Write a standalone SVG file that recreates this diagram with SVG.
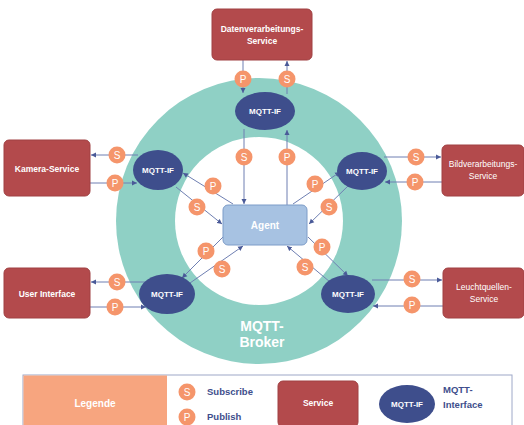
<svg xmlns="http://www.w3.org/2000/svg" width="524" height="425" viewBox="0 0 524 425">
<style>
text{font-family:"Liberation Sans",Arial,sans-serif;fill:#fff;text-anchor:middle}
.svc{fill:#b34a4c;stroke:#a04042;stroke-width:1}
.svct{font-size:8.5px;font-weight:bold}
.svcr{font-size:8.5px}
.if{fill:#3e4e8c}
.ift{font-size:8px;font-weight:bold}
.sp{fill:#f5956b}
.spt{font-size:10px}
.ln{stroke:#6f7fb2;stroke-width:1;fill:none;marker-end:url(#ah)}
.lb{fill:#3e4e8c;font-size:9.5px;font-weight:bold;text-anchor:start}
</style>
<defs>
<marker id="ah" markerWidth="6" markerHeight="6" refX="5" refY="3" orient="auto" markerUnits="userSpaceOnUse">
<path d="M0,0.5 L5,3 L0,5.5 Z" fill="#4a5a98"/>
</marker>
</defs>
<rect width="524" height="425" fill="#fff"/>
<g id="broker">
<circle cx="259" cy="221" r="143" fill="#8fd0c5"/>
<circle cx="259" cy="221" r="84" fill="#fff"/>
<text x="262" y="331" font-size="14" font-weight="bold">MQTT-</text>
<text x="262" y="347" font-size="14" font-weight="bold">Broker</text>
</g>
<g id="connectors">
<line class="ln" x1="243" y1="60" x2="243" y2="93"/>
<line class="ln" x1="287" y1="94" x2="287" y2="61"/>
<line class="ln" x1="244" y1="129" x2="244" y2="204"/>
<line class="ln" x1="287" y1="205" x2="287" y2="130"/>
<line class="ln" x1="138" y1="155" x2="91" y2="155"/>
<line class="ln" x1="90" y1="183" x2="137" y2="183"/>
<line class="ln" x1="384" y1="157" x2="441" y2="157"/>
<line class="ln" x1="442" y1="182" x2="385" y2="182"/>
<line class="ln" x1="150" y1="282" x2="91" y2="282"/>
<line class="ln" x1="90" y1="307" x2="146" y2="307"/>
<line class="ln" x1="372" y1="280" x2="442" y2="280"/>
<line class="ln" x1="443" y1="306" x2="373" y2="306"/>
<line class="ln" x1="233" y1="204" x2="183" y2="173"/>
<line class="ln" x1="176" y1="187" x2="222" y2="224"/>
<line class="ln" x1="293" y1="204" x2="340" y2="172"/>
<line class="ln" x1="348" y1="186" x2="309" y2="224"/>
<line class="ln" x1="223" y1="237" x2="182" y2="278"/>
<line class="ln" x1="190" y1="283" x2="243" y2="246"/>
<line class="ln" x1="308" y1="237" x2="348" y2="276"/>
<line class="ln" x1="330" y1="282" x2="287" y2="246"/>
</g>
<g id="svc-daten"><rect class="svc" x="212" y="9" width="100" height="51" rx="5"/><text class="svct" x="262" y="32">Datenverarbeitungs-</text><text class="svct" x="262" y="44">Service</text></g>
<g id="svc-kamera"><rect class="svc" x="4" y="140" width="86" height="56" rx="5"/><text class="svct" x="47" y="172">Kamera-Service</text></g>
<g id="svc-bild"><rect class="svc" x="442" y="145" width="82" height="51" rx="5"/><text class="svcr" x="483" y="167">Bildverarbeitungs-</text><text class="svcr" x="483" y="179">Service</text></g>
<g id="svc-ui"><rect class="svc" x="4" y="268" width="86" height="50" rx="5"/><text class="svct" x="47" y="297">User Interface</text></g>
<g id="svc-leucht"><rect class="svc" x="443" y="268" width="81" height="50" rx="5"/><text class="svcr" x="484" y="290">Leuchtquellen-</text><text class="svcr" x="484" y="302">Service</text></g>
<g id="agent"><rect x="223" y="205" width="84" height="40" rx="5" fill="#a7c2e2" stroke="#7d9cc8"/><text x="265" y="229" font-size="10" font-weight="bold">Agent</text></g>
<g id="if-top"><ellipse class="if" cx="265" cy="111" rx="30" ry="19"/><text class="ift" x="265" y="114">MQTT-IF</text></g>
<g id="if-tl"><ellipse class="if" cx="158" cy="170" rx="25" ry="20"/><text class="ift" x="158" y="173">MQTT-IF</text></g>
<g id="if-tr"><ellipse class="if" cx="362" cy="171" rx="25" ry="19"/><text class="ift" x="362" y="174">MQTT-IF</text></g>
<g id="if-bl"><ellipse class="if" cx="167" cy="294" rx="28" ry="20"/><text class="ift" x="167" y="297">MQTT-IF</text></g>
<g id="if-br"><ellipse class="if" cx="348" cy="294" rx="27" ry="19"/><text class="ift" x="348" y="297">MQTT-IF</text></g>
<g id="sp-labels">
<circle class="sp" cx="243" cy="79" r="8.5"/><text class="spt" x="243" y="82.5">P</text>
<circle class="sp" cx="287" cy="79" r="8.5"/><text class="spt" x="287" y="82.5">S</text>
<circle class="sp" cx="244" cy="157" r="8.5"/><text class="spt" x="244" y="160.5">S</text>
<circle class="sp" cx="287" cy="157" r="8.5"/><text class="spt" x="287" y="160.5">P</text>
<circle class="sp" cx="117" cy="155" r="8.5"/><text class="spt" x="117" y="158.5">S</text>
<circle class="sp" cx="115" cy="183" r="8.5"/><text class="spt" x="115" y="186.5">P</text>
<circle class="sp" cx="416" cy="157" r="8.5"/><text class="spt" x="416" y="160.5">S</text>
<circle class="sp" cx="415" cy="182" r="8.5"/><text class="spt" x="415" y="185.5">P</text>
<circle class="sp" cx="117" cy="282" r="8.5"/><text class="spt" x="117" y="285.5">S</text>
<circle class="sp" cx="115" cy="307" r="8.5"/><text class="spt" x="115" y="310.5">P</text>
<circle class="sp" cx="412" cy="279" r="8.5"/><text class="spt" x="412" y="282.5">S</text>
<circle class="sp" cx="412" cy="305" r="8.5"/><text class="spt" x="412" y="308.5">P</text>
<circle class="sp" cx="213" cy="186" r="8.5"/><text class="spt" x="213" y="189.5">P</text>
<circle class="sp" cx="197" cy="207" r="8.5"/><text class="spt" x="197" y="210.5">S</text>
<circle class="sp" cx="315" cy="184" r="8.5"/><text class="spt" x="315" y="187.5">P</text>
<circle class="sp" cx="329" cy="207" r="8.5"/><text class="spt" x="329" y="210.5">S</text>
<circle class="sp" cx="206" cy="251" r="8.5"/><text class="spt" x="206" y="254.5">P</text>
<circle class="sp" cx="222" cy="269" r="8.5"/><text class="spt" x="222" y="272.5">S</text>
<circle class="sp" cx="322" cy="247" r="8.5"/><text class="spt" x="322" y="250.5">P</text>
<circle class="sp" cx="305" cy="267" r="8.5"/><text class="spt" x="305" y="270.5">S</text>
</g>
<g id="legend">
<rect x="23" y="375" width="489" height="52" fill="#fff" stroke="#9ea8c8"/>
<rect x="23.5" y="375.5" width="143.5" height="51" fill="#f7a57f"/>
<text x="95" y="407" font-size="10" font-weight="bold">Legende</text>
<circle class="sp" cx="187" cy="392" r="8.5"/><text class="spt" x="187" y="395.5">S</text>
<circle class="sp" cx="187" cy="417" r="8.5"/><text class="spt" x="187" y="420.5">P</text>
<text class="lb" x="207" y="395">Subscribe</text>
<text class="lb" x="207" y="420">Publish</text>
<rect class="svc" x="278" y="381" width="80" height="46" rx="5"/>
<text class="svct" x="318" y="406">Service</text>
<ellipse class="if" cx="407" cy="404" rx="28" ry="19"/>
<text class="ift" x="407" y="407">MQTT-IF</text>
<text class="lb" x="443" y="393">MQTT-</text>
<text class="lb" x="443" y="408">Interface</text>
</g>
</svg>
